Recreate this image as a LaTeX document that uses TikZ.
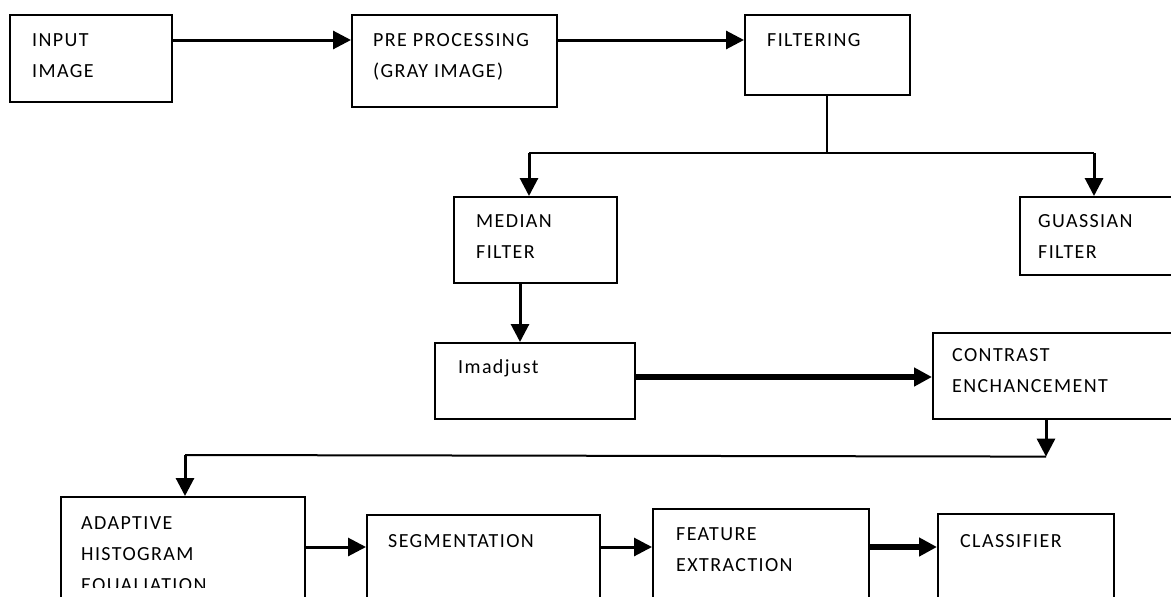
\documentclass[tikz,border=0pt]{standalone}
\usepackage{fontspec}
\setmainfont{Carlito}[LetterSpace=7]
\usepackage{tikz}
\usetikzlibrary{calc}
\usetikzlibrary{positioning}
\usetikzlibrary{arrows.meta}

\begin{document}
\begin{tikzpicture}[x=1pt, y=-1pt, >={Triangle[length=18pt,width=18pt]}, font=\fontsize{20}{31}\selectfont]
    \tikzstyle{block}=[draw=black, line width=1.6pt, rectangle, fill=none, anchor=north west, inner sep=0pt]
    \tikzstyle{annot}=[anchor=north west, inner sep=0pt, align=left, text=black]
    \tikzstyle{arr}=[->, line width=3pt]
    \tikzstyle{heavyarr}=[->, line width=5.5pt]
    \tikzstyle{wire}=[line width=2pt]

    \useasboundingbox (0,0) rectangle (1171,597);
    \clip (0,0) rectangle (1171,597);

    % boxes
    \node[block, minimum width=162pt, minimum height=87pt] (input) at (9,14) {};
    \node[block, minimum width=205pt, minimum height=92pt] (pre) at (351,14) {};
    \node[block, minimum width=165pt, minimum height=80pt] (filt) at (744,14) {};
    \node[block, minimum width=163pt, minimum height=86pt] (median) at (453,196) {};
    \node[block, minimum width=171pt, minimum height=78pt] (gauss) at (1019,196) {};
    \node[block, minimum width=200pt, minimum height=76pt] (imadj) at (434,342) {};
    \node[block, minimum width=258pt, minimum height=86pt] (contrast) at (932,332) {};
    \node[block, minimum width=244pt, minimum height=130pt] (adaptive) at (60,496) {};
    \node[block, minimum width=233pt, minimum height=110pt] (seg) at (366,514) {};
    \node[block, minimum width=216pt, minimum height=110pt] (feat) at (652,508) {};
    \node[block, minimum width=176pt, minimum height=110pt] (class) at (937,513) {};

    % texts
    \node[annot, below right=19pt and 23pt of input.north west] {INPUT\\IMAGE};
    \node[annot, below right=19pt and 22pt of pre.north west] {PRE PROCESSING\\(GRAY IMAGE)};
    \node[annot, below right=19pt and 23pt of filt.north west] {FILTERING};
    \node[annot, below right=18pt and 23pt of median.north west] {MEDIAN\\FILTER};
    \node[annot, below right=18pt and 19pt of gauss.north west] {GUASSIAN\\FILTER};
    \node[annot, below right=17pt and 24pt of imadj.north west] {Imadjust};
    \node[annot, below right=16pt and 20pt of contrast.north west] {CONTRAST\\ENCHANCEMENT};
    \begin{scope}
        % last line is cut off in the source
        \clip (adaptive.north west) rectangle ($(adaptive.north east)+(0,91)$);
        \node[annot, below right=20pt and 21pt of adaptive.north west] {ADAPTIVE\\HISTOGRAM\\EQUALIATION};
    \end{scope}
    \node[annot, below right=20pt and 22pt of seg.north west] {SEGMENTATION};
    \node[annot, below right=19pt and 24pt of feat.north west] {FEATURE\\EXTRACTION};
    \node[annot, below right=21pt and 23pt of class.north west] {CLASSIFIER};

    % top row
    \draw[arr] ($(input.north east)+(0,26)$) -- ($(pre.north west)+(0,26)$);
    \draw[arr] ($(pre.north east)+(0,26)$) -- ($(filt.north west)+(0,26)$);

    % split after filtering
    \coordinate (splitL) at ($(median.north west)+(76,-43)$);
    \coordinate (splitR) at ($(gauss.north west)+(75,-43)$);
    \draw[wire] (filt.south) -- (filt.south |- splitL);
    \draw[wire] (splitL) -- (splitR);
    \draw[arr] (splitL) -- (splitL |- median.north);
    \draw[arr] (splitR) -- (splitR |- gauss.north);

    \draw[arr] ($(median.south west)+(67,0)$) -- ($(imadj.north west)+(86,0)$);
    \draw[heavyarr] ($(imadj.north east)+(0,35)$) -- ($(contrast.north west)+(0,45)$);

    % back to the left
    \coordinate (turnR) at ($(contrast.south west)+(114,37)$);
    \coordinate (turnL) at ($(adaptive.north west)+(125,-41)$);
    \draw[arr] ($(contrast.south west)+(114,0)$) -- (turnR);
    \draw[wire] (turnR) -- (turnL);
    \draw[arr] (turnL) -- (turnL |- adaptive.north);

    % bottom row
    \draw[arr] ($(adaptive.north east)+(0,51)$) -- ($(seg.north west)+(0,33)$);
    \draw[arr] ($(seg.north east)+(0,33)$) -- ($(feat.north west)+(0,39)$);
    \draw[heavyarr] ($(feat.north east)+(0,39)$) -- ($(class.north west)+(0,34)$);
\end{tikzpicture}
\end{document}
